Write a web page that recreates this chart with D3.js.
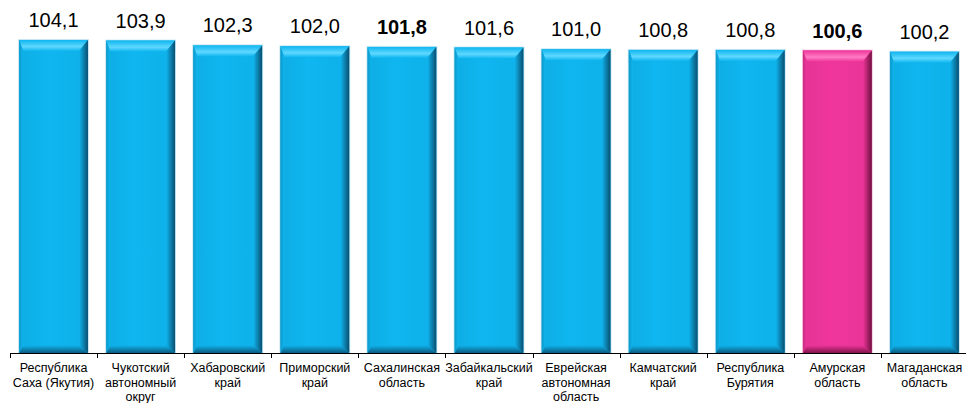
<!DOCTYPE html>
<html><head><meta charset="utf-8">
<script src="https://cdn.jsdelivr.net/npm/d3@7"></script>
<style>body{margin:0;background:#fff;}svg{display:block;font-family:Arial,"Liberation Sans",sans-serif;}</style>
</head><body>
<svg id="c" width="966" height="403"></svg>
<script>
const categories = [
  ["Республика","Саха (Якутия)"],
  ["Чукотский","автономный","округ"],
  ["Хабаровский","край"],
  ["Приморский","край"],
  ["Сахалинская","область"],
  ["Забайкальский","край"],
  ["Еврейская","автономная","область"],
  ["Камчатский","край"],
  ["Республика","Бурятия"],
  ["Амурская","область"],
  ["Магаданская","область"]
];
const values = [104.1, 103.9, 102.3, 102.0, 101.8, 101.6, 101.0, 100.8, 100.8, 100.6, 100.2];
const highlighted = [false,false,false,false,false,false,false,false,false,true,false];
const boldLabels = [false,false,false,false,true,false,false,false,false,true,false];

const svg = d3.select("#c");
const x = d3.scaleBand().domain(d3.range(values.length)).range([10, 968]).paddingInner(0.21).paddingOuter(0.105);
const y = d3.scaleLinear().domain([0, 104.1]).range([353, 40]);

const defs = svg.append("defs");
function grads(id, base, light, dark){
  const gm = defs.append("linearGradient").attr("id", id+"m").attr("x1",0).attr("x2",1).attr("y1",0).attr("y2",0);
  gm.append("stop").attr("offset","0%").attr("stop-color", d3.color(base).darker(0.15));
  gm.append("stop").attr("offset","40%").attr("stop-color", base);
  gm.append("stop").attr("offset","100%").attr("stop-color", d3.color(base).darker(0.1));
  const gt = defs.append("linearGradient").attr("id", id+"t").attr("x1",0).attr("x2",0).attr("y1",0).attr("y2",1);
  gt.append("stop").attr("offset","0%").attr("stop-color", base);
  gt.append("stop").attr("offset","60%").attr("stop-color", light);
  gt.append("stop").attr("offset","100%").attr("stop-color", base);
  const gr = defs.append("linearGradient").attr("id", id+"r").attr("x1",0).attr("x2",1).attr("y1",0).attr("y2",0);
  gr.append("stop").attr("offset","0%").attr("stop-color", base);
  gr.append("stop").attr("offset","100%").attr("stop-color", dark);
  const gb = defs.append("linearGradient").attr("id", id+"b").attr("x1",0).attr("x2",0).attr("y1",0).attr("y2",1);
  gb.append("stop").attr("offset","0%").attr("stop-color", base);
  gb.append("stop").attr("offset","100%").attr("stop-color", d3.color(dark).brighter(0.4));
  const gl = defs.append("linearGradient").attr("id", id+"l").attr("x1",0).attr("x2",1).attr("y1",0).attr("y2",0);
  gl.append("stop").attr("offset","0%").attr("stop-color", d3.color(base).darker(0.5));
  gl.append("stop").attr("offset","100%").attr("stop-color", base);
}
grads("blue", "#0fb6f0", "#5fd8ff", "#0a4f70");
grads("pink", "#f0369c", "#ff7cc4", "#701040");

const bars = svg.append("g").selectAll("g").data(values).join("g");
bars.each(function(v, i){
  const g = d3.select(this);
  const id = highlighted[i] ? "pink" : "blue";
  const x0 = x(i), w = x.bandwidth(), y0 = y(v), y1 = y(0), h = y1 - y0;
  const bt = 11, br = 9, bb = 8, bl = 4;
  g.append("rect").attr("x", x0-1).attr("y", y0-1).attr("width", w+2).attr("height", h+1).attr("fill", highlighted[i] ? "#f4c6de" : "#c6e6f3");
  g.append("rect").attr("x", x0).attr("y", y0).attr("width", w).attr("height", h).attr("fill", `url(#${id}m)`);
  g.append("polygon").attr("points", [[x0,y0],[x0+w,y0],[x0+w-br,y0+bt],[x0+bl,y0+bt]].join(" ")).attr("fill", `url(#${id}t)`);
  g.append("polygon").attr("points", [[x0+w,y0],[x0+w,y1],[x0+w-br,y1-bb],[x0+w-br,y0+bt]].join(" ")).attr("fill", `url(#${id}r)`);
  g.append("polygon").attr("points", [[x0,y1],[x0+w,y1],[x0+w-br,y1-bb],[x0+bl,y1-bb]].join(" ")).attr("fill", `url(#${id}b)`);
  g.append("polygon").attr("points", [[x0,y0],[x0+bl,y0+bt],[x0+bl,y1-bb],[x0,y1]].join(" ")).attr("fill", `url(#${id}l)`);
});

// value labels
svg.append("g").selectAll("text").data(values).join("text")
  .attr("x", (d,i) => x(i) + x.bandwidth()/2)
  .attr("y", d => y(d) - 13)
  .attr("text-anchor", "middle")
  .attr("font-size", 20)
  .attr("font-weight", (d,i) => boldLabels[i] ? "bold" : "normal")
  .attr("fill", "#000")
  .text(d => d.toFixed(1).replace(".", ","));

// axis
const ax = svg.append("g");
ax.append("line").attr("x1", 10).attr("x2", 968).attr("y1", 353.5).attr("y2", 353.5).attr("stroke", "#000").attr("stroke-width", 1);
const step = (968 - 10) / values.length;
ax.selectAll("line.t").data(d3.range(values.length + 1)).join("line").attr("class","t")
  .attr("x1", i => Math.round(10 + i*step)+0.5).attr("x2", i => Math.round(10 + i*step)+0.5)
  .attr("y1", 353).attr("y2", 358).attr("stroke", "#000");

const cl = svg.append("g").selectAll("text").data(categories).join("text")
  .attr("x", (d,i) => x(i) + x.bandwidth()/2)
  .attr("y", 372)
  .attr("text-anchor", "middle")
  .attr("font-size", 12.5)
  .attr("fill", "#000");
cl.selectAll("tspan").data(d => d).join("tspan")
  .attr("x", function(){ return d3.select(this.parentNode).attr("x"); })
  .attr("dy", (d,j) => j === 0 ? 0 : 14.5)
  .text(d => d);
</script>
</body></html>
